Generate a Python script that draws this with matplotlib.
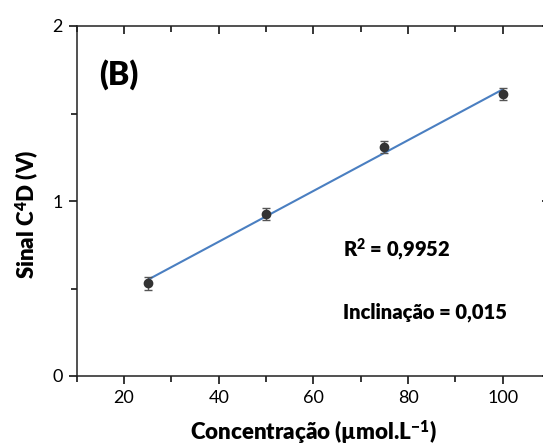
import matplotlib
matplotlib.use("Agg")
import matplotlib.pyplot as plt
import numpy as np
from matplotlib.ticker import MultipleLocator

plt.rcParams['font.family'] = ['Lato', 'DejaVu Sans']
plt.rcParams['mathtext.fontset'] = 'custom'
plt.rcParams['mathtext.rm'] = 'Lato'
plt.rcParams['mathtext.bf'] = 'Lato:heavy'
plt.rcParams['mathtext.it'] = 'Lato:italic'

conc = [25, 50, 75, 100]
signal = [0.53, 0.924, 1.31, 1.61]
err = [0.036, 0.035, 0.035, 0.035]
r2_text = "R$^{\\mathbf{2}}$ = 0,9952"
slope_text = "Inclinação = 0,015"
panel = "(B)"

W, H = 543, 446
fig = plt.figure(figsize=(W/100, H/100), dpi=100)
ax = fig.add_axes([76.7/W, 70/H, (550-76.7)/W, 350/H])

coef = np.polyfit(conc, signal, 1)
xf = np.array([conc[0], conc[-1]])
ax.plot(xf, np.polyval(coef, xf), color='#4a7fc1', lw=1.5, zorder=2)
ax.errorbar(conc, signal, yerr=err, fmt='o', color='#333333', ms=6,
            ecolor='#555555', elinewidth=1, capsize=3, capthick=1, zorder=3)

ax.set_xlim(10, 110)
ax.set_ylim(0, 2)
ax.xaxis.set_major_locator(MultipleLocator(20))
ax.xaxis.set_minor_locator(MultipleLocator(10))
ax.yaxis.set_major_locator(MultipleLocator(1))
ax.yaxis.set_minor_locator(MultipleLocator(0.5))
ax.tick_params(axis='x', which='both', bottom=True, top=True, direction='out', labelsize=13, pad=4)
ax.tick_params(axis='y', which='both', left=True, right=True, direction='out', labelsize=13, pad=4)
ax.tick_params(which='major', length=6, width=1.1)
ax.tick_params(which='minor', length=4, width=1.1)
for t in ax.xaxis.get_major_ticks() + ax.xaxis.get_minor_ticks():
    t.tick2line.set_marker(3)
for t in ax.yaxis.get_major_ticks() + ax.yaxis.get_minor_ticks():
    t.tick2line.set_marker(0)
for s in ax.spines.values():
    s.set_linewidth(1.1)
    s.set_color('#222222')

ax.set_xlabel("Concentração (µmol.L$^{\\mathbf{-1}}$)", fontsize=16, fontweight='heavy')
ax.xaxis.set_label_coords((313-76.7)/(550-76.7), -(432-376)/350)
ax.set_ylabel("Sinal C$^{\\mathbf{4}}$D (V)", fontsize=16, fontweight='heavy')
ax.yaxis.set_label_coords(-(76.7-27)/(550-76.7), (376-214)/350)
ax.xaxis.label.set_verticalalignment('center')
ax.yaxis.label.set_verticalalignment('center')

ax.text(99/W, 1-75/H, panel, transform=fig.transFigure, fontsize=23, fontweight='heavy', va='center', ha='left')
ax.text(343/W, 1-249/H, r2_text, transform=fig.transFigure, fontsize=14.5, fontweight='heavy', va='center', ha='left')
ax.text(343/W, 1-312/H, slope_text, transform=fig.transFigure, fontsize=14.5, fontweight='heavy', va='center', ha='left')

fig.savefig("out.png", dpi=100)
